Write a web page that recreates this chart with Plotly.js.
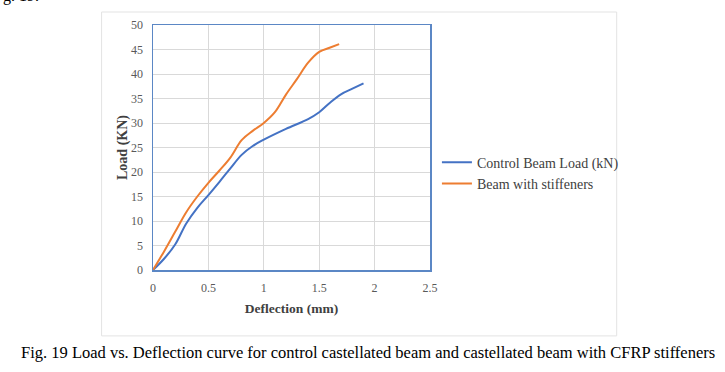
<!DOCTYPE html>
<html>
<head>
<meta charset="utf-8">
<script src="https://cdn.plot.ly/plotly-3.0.1.min.js"></script>
<style>html,body{margin:0;padding:0;background:#fff;}#chart{width:725px;height:372px;}</style>
</head>
<body>
<div id="chart"></div>
<script>
const controlX = [0, 0.1, 0.2, 0.3, 0.4, 0.5, 0.6, 0.7, 0.8, 0.9, 1.0, 1.2, 1.4, 1.5, 1.6, 1.7, 1.8, 1.9];
const controlY = [0, 2.3, 5.2, 9.5, 12.7, 15.3, 18.0, 20.8, 23.5, 25.3, 26.6, 28.8, 30.8, 32.2, 34.2, 35.9, 37.0, 38.1];
const stiffX = [0, 0.1, 0.2, 0.3, 0.4, 0.5, 0.6, 0.7, 0.8, 0.9, 1.0, 1.1, 1.2, 1.3, 1.4, 1.5, 1.6, 1.68];
const stiffY = [0, 3.8, 7.8, 11.8, 15.0, 17.8, 20.3, 23.0, 26.5, 28.4, 30.0, 32.2, 35.8, 39.0, 42.3, 44.5, 45.4, 46.1];
const seriesNames = ["Control Beam Load (kN)", "Beam with stiffeners"];
const xTicks = [0, 0.5, 1, 1.5, 2, 2.5];
const xTickText = ["0", "0.5", "1", "1.5", "2", "2.5"];
const yTicks = [0, 5, 10, 15, 20, 25, 30, 35, 40, 45, 50];
const captionText = "Fig. 19 Load vs. Deflection curve for control castellated beam and castellated beam with CFRP stiffeners";

const serif = "Liberation Serif";
const data = [
  {x: controlX, y: controlY, name: seriesNames[0], type: "scatter", mode: "lines",
   line: {color: "#4472C4", width: 2, shape: "spline", smoothing: 1}},
  {x: stiffX, y: stiffY, name: seriesNames[1], type: "scatter", mode: "lines",
   line: {color: "#ED7D31", width: 2, shape: "spline", smoothing: 1}}
];
const layout = {
  width: 725, height: 372,
  margin: {l: 152.5, r: 295, t: 25, b: 102, pad: 0},
  paper_bgcolor: "#ffffff", plot_bgcolor: "#ffffff",
  showlegend: true,
  legend: {x: 1.025, y: 0.395, xanchor: "left", yanchor: "middle",
           font: {family: serif, size: 14, color: "#404040"},
           bgcolor: "rgba(0,0,0,0)", itemwidth: 30, tracegroupgap: 0},
  xaxis: {range: [0, 2.5], tickvals: xTicks, ticktext: xTickText, showgrid: true,
          gridcolor: "#d9d9d9", gridwidth: 1, zeroline: false, showline: true,
          linecolor: "#5b87c5", linewidth: 1.5, mirror: true, ticks: "",
          ticklabelstandoff: 6,
          tickfont: {family: serif, size: 12, color: "#595959"},
          title: {text: "<b>Deflection (mm)</b>", font: {family: serif, size: 13.5, color: "#404040"}, standoff: 9},
          fixedrange: true},
  yaxis: {range: [0, 50], tickvals: yTicks, showgrid: true,
          gridcolor: "#d9d9d9", gridwidth: 1, zeroline: false, showline: true,
          linecolor: "#5b87c5", linewidth: 1.5, mirror: true, ticks: "",
          ticklabelstandoff: 6,
          tickfont: {family: serif, size: 12, color: "#595959"},
          title: {text: "<b>Load (KN)</b>", font: {family: serif, size: 14, color: "#404040"}, standoff: 0},
          fixedrange: true},
  shapes: [
    {type: "rect", xref: "paper", yref: "paper", x0: -0.1856, x1: 1.674, y0: -0.269, y1: 1.053,
     line: {color: "#e3e3e3", width: 1}, fillcolor: "rgba(0,0,0,0)", layer: "below"}
  ],
  annotations: [
    {text: captionText, xref: "paper", yref: "paper", x: 0.777, y: -0.335,
     xanchor: "center", yanchor: "middle", showarrow: false,
     font: {family: serif, size: 16.5, color: "#000000"}},
    {text: "g. 19.", xref: "paper", yref: "paper", x: -0.55, y: 1.12,
     xanchor: "left", yanchor: "middle", showarrow: false,
     font: {family: serif, size: 16, color: "#000000"}}
  ]
};
Plotly.newPlot("chart", data, layout, {displayModeBar: false, staticPlot: true});
</script>
</body>
</html>
